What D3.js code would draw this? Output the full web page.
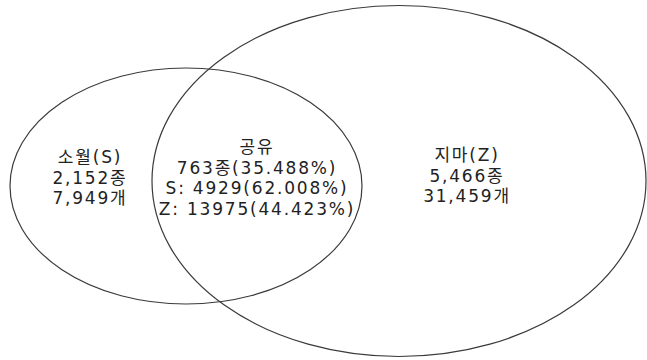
<!DOCTYPE html>
<html lang="ko">
    <head>
        <meta charset="utf-8"/>
        <script src="https://d3js.org/d3.v7.min.js"></script>
        <style>
            body { margin: 0; background: #fff; }
        </style>
    </head>
    <body>
        <div id="chart"></div>
    </body>
    <script>
        // two-set venn: 소월(S) vs 지마(Z)
        var setNames = ["소월(S)", "지마(Z)"];
        var setSpecies = [2152, 5466];
        var setCounts = [7949, 31459];

        var sharedTitle = "공유";
        var sharedSpecies = 763;
        var sharedSpeciesPct = 35.488;
        var sharedKeys = ["S", "Z"];
        var sharedCounts = [4929, 13975];
        var sharedCountPcts = [62.008, 44.423];

        var width = 647;
        var height = 360;

        // ellipse geometry (pixels)
        var shapes = [
            {cx: 186, cy: 186, rx: 176, ry: 118, lx: 90, ly: 157},
            {cx: 399, cy: 181, rx: 247, ry: 175.5, lx: 467, ly: 155}
        ];
        var sharedLabelPos = {x: 257, y: 147};
        var lineGap = 20.5;

        var fmt = d3.format(",");

        var svg = d3.select("#chart")
            .append("svg")
                .attr("width", width)
                .attr("height", height)

        svg.selectAll("ellipse")
            .data(shapes)
            .enter()
            .append("ellipse")
                .attr("cx", function(d) { return d.cx; })
                .attr("cy", function(d) { return d.cy; })
                .attr("rx", function(d) { return d.rx; })
                .attr("ry", function(d) { return d.ry; })
                .style("fill", "none")
                .style("stroke", "#3a3a3a")
                .style("stroke-width", 1.2)

        function block(x, y, lines) {
            var t = svg.append("text")
                .attr("x", x)
                .attr("y", y)
                .attr("text-anchor", "middle")
                .attr("dominant-baseline", "central")
                .style("font-family", "'DejaVu Sans', 'Noto Sans CJK KR', sans-serif")
                .style("font-size", "17px")
                .style("letter-spacing", "1.8px")
                .style("fill", "#222")
            lines.forEach(function(s, i) {
                t.append("tspan")
                    .attr("x", x)
                    .attr("y", y + i * lineGap)
                    .text(s)
            })
        }

        setNames.forEach(function(name, i) {
            block(shapes[i].lx, shapes[i].ly, [
                name,
                fmt(setSpecies[i]) + "종",
                fmt(setCounts[i]) + "개"
            ])
        })

        var sharedLines = [sharedTitle, sharedSpecies + "종(" + sharedSpeciesPct.toFixed(3) + "%)"];
        sharedKeys.forEach(function(k, i) {
            sharedLines.push(k + ": " + sharedCounts[i] + "(" + sharedCountPcts[i].toFixed(3) + "%)");
        })
        block(sharedLabelPos.x, sharedLabelPos.y, sharedLines)
    </script>
</html>
